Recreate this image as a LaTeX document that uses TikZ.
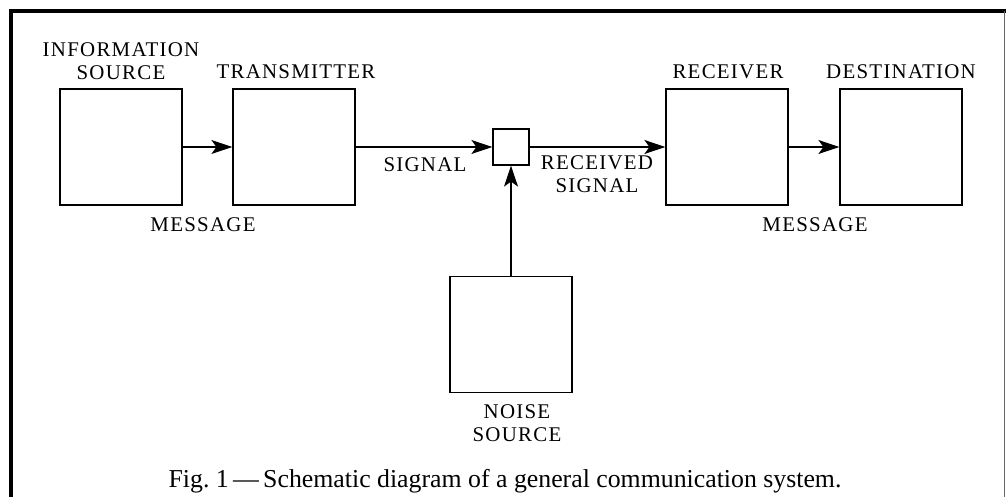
\documentclass[tikz,border=0pt]{standalone}
\usepackage{fontspec}
\setmainfont{Liberation Serif}
\newfontfamily\lblfont[LetterSpace=6]{Liberation Serif}
\usetikzlibrary{arrows.meta}

\begin{document}
\begin{tikzpicture}[x=1pt,y=-1pt,line width=1.2pt,
    >={Stealth[length=21pt,width=14pt,inset=5pt]},
    blk/.style={draw,minimum width=122pt,minimum height=116pt,inner sep=0pt},
    lbl/.style={font=\lblfont\fontsize{20.9}{23}\selectfont,align=center,inner sep=0pt}]
  \useasboundingbox (0,0) rectangle (1006,497);
  % frame
  \draw[line width=4pt] (11,497) -- (11,11) -- (1006,11);
  \draw[line width=1pt,black!60] (1004,11) -- (1004,497);
  % boxes
  \node[blk] (src) at (121,147) {};
  \node[blk] (tx) at (294,147) {};
  \node[draw,minimum size=36pt,inner sep=0pt] (mix) at (511,147) {};
  \node[blk] (rx) at (727,147) {};
  \node[blk] (dst) at (901,147) {};
  \node[blk] (noise) at (511,334.5) {};
  % connectors
  \draw[->] (src) -- (tx);
  \draw[->] (tx) -- (mix);
  \draw[->] (mix) -- (rx);
  \draw[->] (rx) -- (dst);
  \draw[->] (noise) -- (mix);
  % labels
  \node[lbl] (srclbl) at (121,61) {INFORMATION\\SOURCE};
  \node[lbl] (txlbl) at (296,72) {TRANSMITTER};
  \node[lbl] (rxlbl) at (728,72) {RECEIVER};
  \node[lbl] (dstlbl) at (901,72) {DESTINATION};
  \node[lbl] (msg1) at (203,225) {MESSAGE};
  \node[lbl] (sig) at (425,165) {SIGNAL};
  \node[lbl] (rsig) at (597,174) {RECEIVED\\SIGNAL};
  \node[lbl] (msg2) at (815,225) {MESSAGE};
  \node[lbl] (noiselbl) at (517,423) {NOISE\\SOURCE};
  \node[anchor=base,font=\fontsize{25.8}{28}\selectfont,inner sep=0pt] (cap) at (505,487)
    {Fig.~1\,---\,Schematic diagram of a general communication system.};
\end{tikzpicture}
\end{document}
